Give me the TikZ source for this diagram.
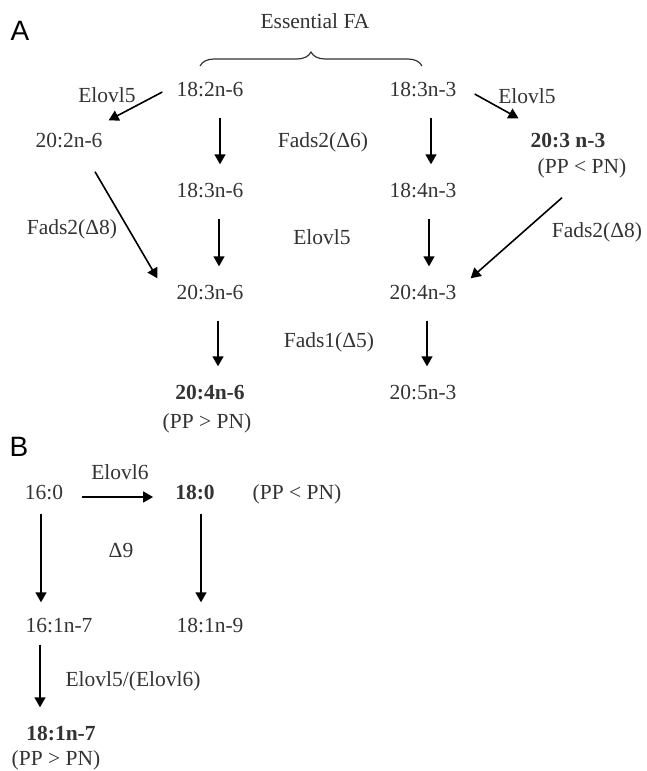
\documentclass[tikz,border=0pt]{standalone}
\usepackage{fontspec}
\setmainfont{Liberation Serif}
\setsansfont{Liberation Sans}
\usetikzlibrary{arrows.meta,decorations.pathreplacing}
\definecolor{txt}{rgb}{0.2,0.2,0.2}
\begin{document}
\begin{tikzpicture}[x=1pt,y=-1pt,
  fa/.style={inner sep=0pt,text height=15pt,text depth=0pt,text=txt,
    font=\fontsize{21.5}{24}\selectfont},
  enz/.style={fa},
  boldfa/.style={fa,font=\fontsize{21.5}{24}\selectfont\bfseries},
  panel/.style={inner sep=0pt,text=black,font=\fontsize{28}{30}\selectfont\sffamily},
  arr/.style={-{Triangle[length=10pt,width=11pt]},line width=1.6pt,black},
  vdown/.style={arr,shorten <=21pt,shorten >=18pt}]
\useasboundingbox (0,0) rectangle (646,771);

% ---------- panel A ----------
\node[panel] (pa) at (20,31) {A};
\node[fa] (ess) at (315,21) {Essential FA};
\draw[txt,line width=1.2pt,decorate,decoration={brace,amplitude=14pt}]
  (200,66) -- (422,66);

\node[fa] (l182) at (210,89) {18:2n-6};
\node[fa] (l183) at (210,190) {18:3n-6};
\node[fa] (l203) at (210,292) {20:3n-6};
\node[boldfa] (l204) at (210,392) {20:4n-6};
\node[fa] (l204c) at (207,421) {(PP > PN)};
\node[fa] (l202) at (69,140) {20:2n-6};

\node[fa] (r183) at (423,89) {18:3n-3};
\node[fa] (r184) at (423,190) {18:4n-3};
\node[fa] (r204) at (423,292) {20:4n-3};
\node[fa] (r205) at (423,392) {20:5n-3};
\node[boldfa] (r203) at (568,140) {20:3 n-3};
\node[fa] (r203c) at (582,166) {(PP < PN)};

% enzyme labels
\node[enz] (eL) at (107,95) {Elovl5};
\node[enz] (eR) at (527,96) {Elovl5};
\node[enz] (fd6) at (323,140) {Fads2(Δ6)};
\node[enz] (elm) at (322,237) {Elovl5};
\node[enz] (fd8L) at (72,227) {Fads2(Δ8)};
\node[enz] (fd8R) at (597,230) {Fads2(Δ8)};
\node[enz] (fd5) at (329,340) {Fads1(Δ5)};

% vertical steps
\draw[vdown] ([xshift=10pt]l182.south) -- ([xshift=10pt]l182.south |- l183.north);
\draw[vdown] ([xshift=9pt]l183.south) -- ([xshift=9pt]l183.south |- l203.north);
\draw[vdown] ([xshift=8pt]l203.south) -- ([xshift=8pt]l203.south |- l204.north);
\draw[vdown] ([xshift=8pt]r183.south) -- ([xshift=8pt]r183.south |- r184.north);
\draw[vdown] ([xshift=6pt]r184.south) -- ([xshift=6pt]r184.south |- r204.north);
\draw[vdown] ([xshift=4pt]r204.south) -- ([xshift=4pt]r204.south |- r205.north);

% side branches
\draw[arr] ([xshift=-14pt,yshift=-3pt]l182.west) -- ([xshift=6pt,yshift=12pt]l202.north east);
\draw[arr] ([xshift=26pt,yshift=-24pt]l202.south) -- ([xshift=-19pt,yshift=6pt]l203.north west);
\draw[arr] ([xshift=18pt,yshift=-5pt]r183.east) -- ([xshift=-12pt,yshift=14pt]r203.north west);
\draw[arr] ([xshift=-20pt,yshift=-24pt]r203c.south) -- ([xshift=14pt,yshift=6pt]r204.north east);

% ---------- panel B ----------
\node[panel] (pb) at (19,447) {B};
\node[fa] (b160) at (44,492) {16:0};
\node[boldfa] (b180) at (195,492) {18:0};
\node[fa] (b180c) at (297,492) {(PP < PN)};
\node[fa] (b161) at (59,625) {16:1n-7};
\node[fa] (b181n9) at (210,625) {18:1n-9};
\node[boldfa] (b181n7) at (61,733) {18:1n-7};
\node[fa] (b181c) at (56,758) {(PP > PN)};

\node[enz] (e6) at (120,472) {Elovl6};
\node[enz] (d9) at (121,550) {Δ9};
\node[enz] (e56) at (133,679) {Elovl5/(Elovl6)};

\draw[arr,shorten <=19pt,shorten >=22pt] ([yshift=-5pt]b160.east) -- ([yshift=-5pt]b160.east -| b180.west);
\draw[arr,shorten <=14pt,shorten >=15pt] ([xshift=-3pt]b160.south) -- ([xshift=-3pt]b160.south |- b161.north);
\draw[arr,shorten <=14pt,shorten >=15pt] ([xshift=6pt]b180.south) -- ([xshift=6pt]b180.south |- b181n9.north);
\draw[arr,shorten <=12pt,shorten >=18pt] ([xshift=-19pt]b161.south) -- ([xshift=-19pt]b161.south |- b181n7.north);
\end{tikzpicture}
\end{document}
